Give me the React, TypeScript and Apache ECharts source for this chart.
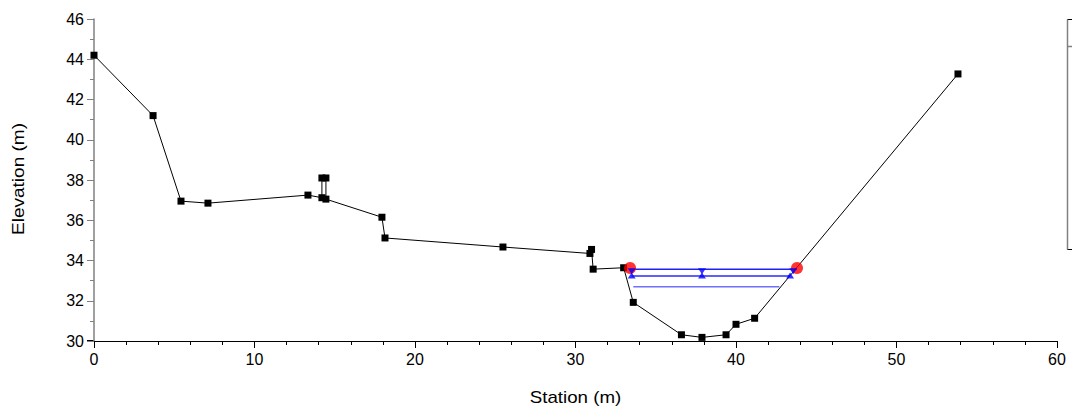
import React, { useEffect, useRef } from "react";
import * as echarts from "echarts";

const stations = [0, 3.68, 5.42, 7.1, 13.33, 14.2, 14.2, 14.45, 14.45, 17.94, 18.13, 25.48, 30.9, 31.0, 31.1, 33.0, 33.6, 36.6, 37.88, 39.38, 40.0, 41.16, 53.83];
const elevations = [44.2, 41.2, 36.95, 36.85, 37.25, 37.12, 38.1, 38.1, 37.05, 36.15, 35.12, 34.67, 34.35, 34.55, 33.57, 33.64, 31.92, 30.31, 30.18, 30.31, 30.83, 31.13, 43.27];

const bankStations = [33.4, 43.8];
const bankElevations = [33.63, 33.63];

const wsTop = { x: [33.4, 43.8], y: 33.57 };
const wsMid = { x: [33.5, 43.37], y: 33.23 };
const wsLow = { x: [33.6, 42.7], y: 32.7 };

const downMarkX = [33.5, 37.88, 43.57];
const downMarkY = 33.47;
const upMarkX = [33.5, 37.88, 43.37];
const upMarkY = 33.26;

const xTitle = "Station (m)";
const yTitle = "Elevation (m)";

export default function App() {
  const ref = useRef<HTMLDivElement>(null);
  useEffect(() => {
    if (!ref.current) return;
    const chart = echarts.init(ref.current, null, { renderer: "svg" });
    const font = "Liberation Sans, Arial, sans-serif";
    chart.setOption({
      animation: false,
      grid: { left: 94, top: 19, right: 15, bottom: 71 },
      xAxis: {
        type: "value",
        min: 0,
        max: 60,
        interval: 10,
        axisLine: { onZero: false, lineStyle: { color: "#000", width: 1 } },
        axisTick: { length: 7, lineStyle: { color: "#000" } },
        minorTick: { show: true, splitNumber: 5, length: 4, lineStyle: { color: "#000" } },
        axisLabel: { fontFamily: font, fontSize: 16, color: "#000", margin: 10 },
        splitLine: { show: false },
      },
      yAxis: {
        type: "value",
        min: 30,
        max: 46,
        interval: 2,
        axisLine: { show: true, lineStyle: { color: "#808080", width: 1.5 } },
        axisTick: { length: 7, lineStyle: { color: "#808080" } },
        minorTick: { show: true, splitNumber: 2, length: 4, lineStyle: { color: "#808080" } },
        axisLabel: { fontFamily: font, fontSize: 16, color: "#000", margin: 10 },
        splitLine: { show: false },
      },
      series: [
        {
          type: "line",
          data: wsLow.x.map((x) => [x, wsLow.y]),
          showSymbol: false,
          lineStyle: { color: "#7070ff", width: 1.5 },
          z: 2,
        },
        {
          type: "line",
          data: wsMid.x.map((x) => [x, wsMid.y]),
          showSymbol: false,
          lineStyle: { color: "#2a2aff", width: 1.5 },
          z: 2,
        },
        {
          type: "line",
          data: wsTop.x.map((x) => [x, wsTop.y]),
          showSymbol: false,
          lineStyle: { color: "#2020ff", width: 1.5 },
          z: 2,
        },
        {
          type: "line",
          data: stations.map((s, i) => [s, elevations[i]]),
          symbol: "rect",
          symbolSize: 7,
          itemStyle: { color: "#000" },
          lineStyle: { color: "#000", width: 1 },
          z: 3,
        },
        {
          type: "scatter",
          data: bankStations.map((s, i) => [s, bankElevations[i]]),
          symbol: "circle",
          symbolSize: 12,
          itemStyle: { color: "#ff0000" },
          z: 4,
        },
        {
          type: "scatter",
          data: downMarkX.map((x) => [x, downMarkY]),
          symbol: "triangle",
          symbolRotate: 180,
          symbolSize: [8, 6],
          itemStyle: { color: "#0000ff" },
          z: 5,
        },
        {
          type: "scatter",
          data: upMarkX.map((x) => [x, upMarkY]),
          symbol: "triangle",
          symbolSize: [8, 6],
          itemStyle: { color: "#0000ff" },
          z: 5,
        },
      ],
      graphic: [
        {
          type: "text",
          x: 575.5,
          y: 397,
          scaleX: 1.17,
          style: {
            text: xTitle,
            fontFamily: font,
            fontSize: 16,
            fill: "#000",
            textAlign: "center",
            textVerticalAlign: "middle",
          },
        },
        {
          type: "text",
          x: 19,
          y: 179,
          rotation: Math.PI / 2,
          scaleX: 1.19,
          style: {
            text: yTitle,
            fontFamily: font,
            fontSize: 16,
            fill: "#000",
            textAlign: "center",
            textVerticalAlign: "middle",
          },
        },
        {
          type: "line",
          shape: { x1: 87, y1: 340.5, x2: 94, y2: 340.5 },
          style: { stroke: "#000", lineWidth: 1 },
        },
        {
          type: "rect",
          shape: { x: 1067.5, y: 19.5, width: 40, height: 230 },
          style: { fill: "none", stroke: "#000", lineWidth: 1 },
        },
        {
          type: "line",
          shape: { x1: 1067.5, y1: 19.5, x2: 1067.5, y2: 249.5 },
          style: { stroke: "#808080", lineWidth: 1.5 },
        },
        {
          type: "line",
          shape: { x1: 1067.5, y1: 46.5, x2: 1072, y2: 46.5 },
          style: { stroke: "#808080", lineWidth: 1.5 },
        },
      ],
    });
    return () => chart.dispose();
  }, []);
  return <div ref={ref} style={{ width: 1072, height: 412, position: "absolute", left: 0, top: 0 }} />;
}
